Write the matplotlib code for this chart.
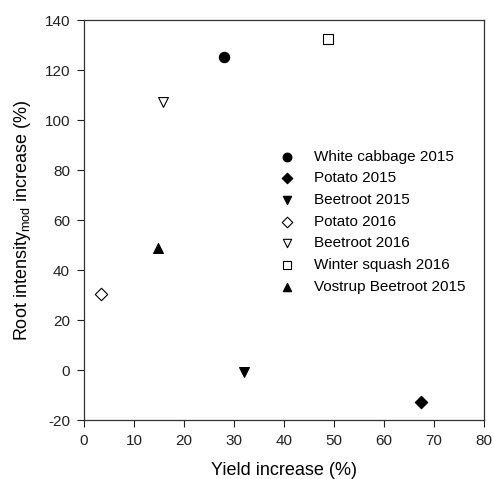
import matplotlib
matplotlib.use("Agg")
import matplotlib.pyplot as plt

plt.rcParams['font.family'] = ['Liberation Sans', 'DejaVu Sans']
plt.rcParams['mathtext.fontset'] = 'custom'
plt.rcParams['mathtext.rm'] = 'Liberation Sans'
plt.rcParams['mathtext.it'] = 'Liberation Sans'
plt.rcParams['axes.unicode_minus'] = False

# crops and their yield / root intensity increases (%)
crops = ["White cabbage 2015", "Potato 2015", "Beetroot 2015", "Potato 2016",
         "Beetroot 2016", "Winter squash 2016", "Vostrup Beetroot 2015"]
yield_inc = [27.9, 67.4, 31.9, 3.5, 15.7, 48.7, 14.7]
root_inc = [125.3, -12.7, -0.9, 30.5, 107.3, 132.4, 48.9]

markers = ['o', 'D', 'v', 'D', 'v', 's', '^']
filled = [True, True, True, False, False, False, True]
sizes = [55, 40, 50, 40, 50, 45, 50]

fig, ax = plt.subplots(figsize=(4.94, 4.79), dpi=100)
fig.subplots_adjust(left=0.17, right=0.98, bottom=0.123, top=0.958)

for name, x, y, m, f, s in zip(crops, yield_inc, root_inc, markers, filled, sizes):
    ax.scatter(x, y, marker=m, s=s, label=name,
               facecolors='black' if f else 'white',
               edgecolors='black', linewidths=0.8, zorder=3)

ax.set_xlim(0, 80)
ax.set_ylim(-20, 140)
ax.set_xticks(range(0, 81, 10))
ax.set_yticks(range(-20, 141, 20))
ax.tick_params(direction='out', length=5, width=0.8, labelsize=11, pad=5,
               top=False, right=False, colors='#222222')
for sp in ax.spines.values():
    sp.set_linewidth(0.9)
    sp.set_color('#333333')

ax.set_xlabel("Yield increase (%)", fontsize=13, labelpad=10)
ax.set_ylabel(r"Root intensity$_{\mathrm{mod}}$ increase (%)", fontsize=13, labelpad=8)

ax.legend(loc='upper left', bbox_to_anchor=(0.45, 0.695), frameon=False,
          fontsize=11, handletextpad=0.75, labelspacing=0.5, markerscale=0.85,
          borderpad=0)

fig.savefig("out.png", dpi=100)
